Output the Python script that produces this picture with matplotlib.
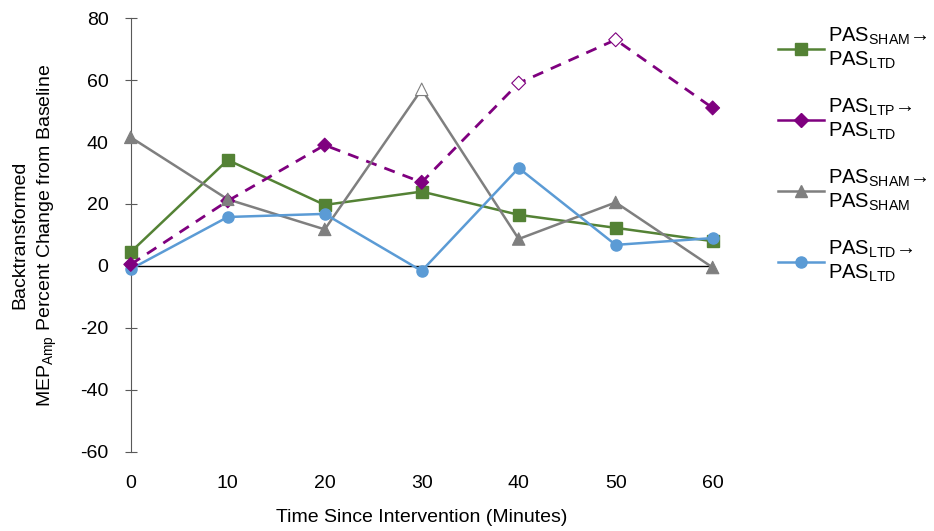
import numpy as np
import matplotlib.pyplot as plt
from matplotlib.lines import Line2D

plt.rcParams['font.family'] = ['Liberation Sans', 'DejaVu Sans']
plt.rcParams['mathtext.fontset'] = 'custom'
plt.rcParams['mathtext.rm'] = 'Liberation Sans'
plt.rcParams['mathtext.it'] = 'Liberation Sans'
plt.rcParams['axes.unicode_minus'] = False

# минуты после воздействия
minutes = [0, 10, 20, 30, 40, 50, 60]

# изменение амплитуды ВМО, %
sham_ltd = [4.5, 34.2, 19.7, 24.0, 16.5, 12.3, 8.0]
ltp_ltd = [0.5, 21.0, 39.0, 27.0, 59.0, 73.0, 51.0]
sham_sham = [41.5, 21.5, 11.8, 57.0, 8.7, 20.5, -0.5]
ltd_ltd = [-1.0, 15.8, 16.8, -1.6, 31.6, 6.8, 9.0]

# незакрашенные маркеры (индексы точек)
ltp_hollow = [4, 5]
sham_hollow = [3]

labels = [r'PAS$_{\mathrm{SHAM}}$→' + '\n' + r'PAS$_{\mathrm{LTD}}$',
          r'PAS$_{\mathrm{LTP}}$→' + '\n' + r'PAS$_{\mathrm{LTD}}$',
          r'PAS$_{\mathrm{SHAM}}$→' + '\n' + r'PAS$_{\mathrm{SHAM}}$',
          r'PAS$_{\mathrm{LTD}}$→' + '\n' + r'PAS$_{\mathrm{LTD}}$']

green = '#548235'
purple = '#7F007F'
gray = '#7F7F7F'
blue = '#5B9BD5'

fig = plt.figure(figsize=(9.34, 5.31), dpi=100)
ax = fig.add_axes([0.140, 0.149, 0.623, 0.817])

x = np.array(minutes)


def face_colors(n, hollow, color):
    return [('white' if i in hollow else color) for i in range(n)]


ax.plot(x, sham_ltd, color=green, lw=1.8, marker='s', ms=8, clip_on=False, zorder=3)
ax.plot(x, ltp_ltd, color=purple, lw=2.0, ls=(0, (4, 3)), zorder=3, clip_on=False)
ltp_fc = face_colors(len(x), ltp_hollow, purple)
ax.scatter(x, ltp_ltd, marker='D', s=50, c=ltp_fc, edgecolors=purple,
           linewidths=0.8, zorder=4, clip_on=False)
ax.plot(x, sham_sham, color=gray, lw=1.8, zorder=3, clip_on=False)
sham_fc = face_colors(len(x), sham_hollow, gray)
ax.scatter(x, sham_sham, marker='^', s=80, c=sham_fc, edgecolors=gray,
           linewidths=0.8, zorder=4, clip_on=False)
ax.plot(x, ltd_ltd, color=blue, lw=1.8, marker='o', ms=8, clip_on=False, zorder=3)

ax.axhline(0, color='black', lw=1.0, zorder=2)

ax.set_xlim(0, 60)
ax.set_ylim(-60, 80)
ax.set_xticks(minutes)
ax.set_yticks(range(-60, 81, 20))
for s in ['top', 'right', 'bottom']:
    ax.spines[s].set_visible(False)
ax.spines['left'].set_color('#595959')
ax.tick_params(axis='x', length=0, pad=17, labelsize=14)
ax.tick_params(axis='y', direction='inout', length=8, color='#595959', labelsize=14, pad=12)

ax.set_xlabel('Time Since Intervention (Minutes)', fontsize=14, labelpad=12)
ax.set_ylabel('Backtransformed\n' + r'MEP$_{\mathrm{Amp}}$ Percent Change from Baseline',
              fontsize=14, labelpad=15, linespacing=1.5)

handles = [Line2D([], [], color=green, lw=1.8, marker='s', ms=8),
           Line2D([], [], color=purple, lw=1.8, marker='D', ms=7),
           Line2D([], [], color=gray, lw=1.8, marker='^', ms=9),
           Line2D([], [], color=blue, lw=1.8, marker='o', ms=8)]
fig.legend(handles, labels, loc='upper left', bbox_to_anchor=(0.82, 0.975),
           frameon=False, fontsize=14.5, handlelength=2.3, labelspacing=1.25,
           handletextpad=0.2, borderaxespad=0.2)

fig.savefig('out.png', dpi=100)
